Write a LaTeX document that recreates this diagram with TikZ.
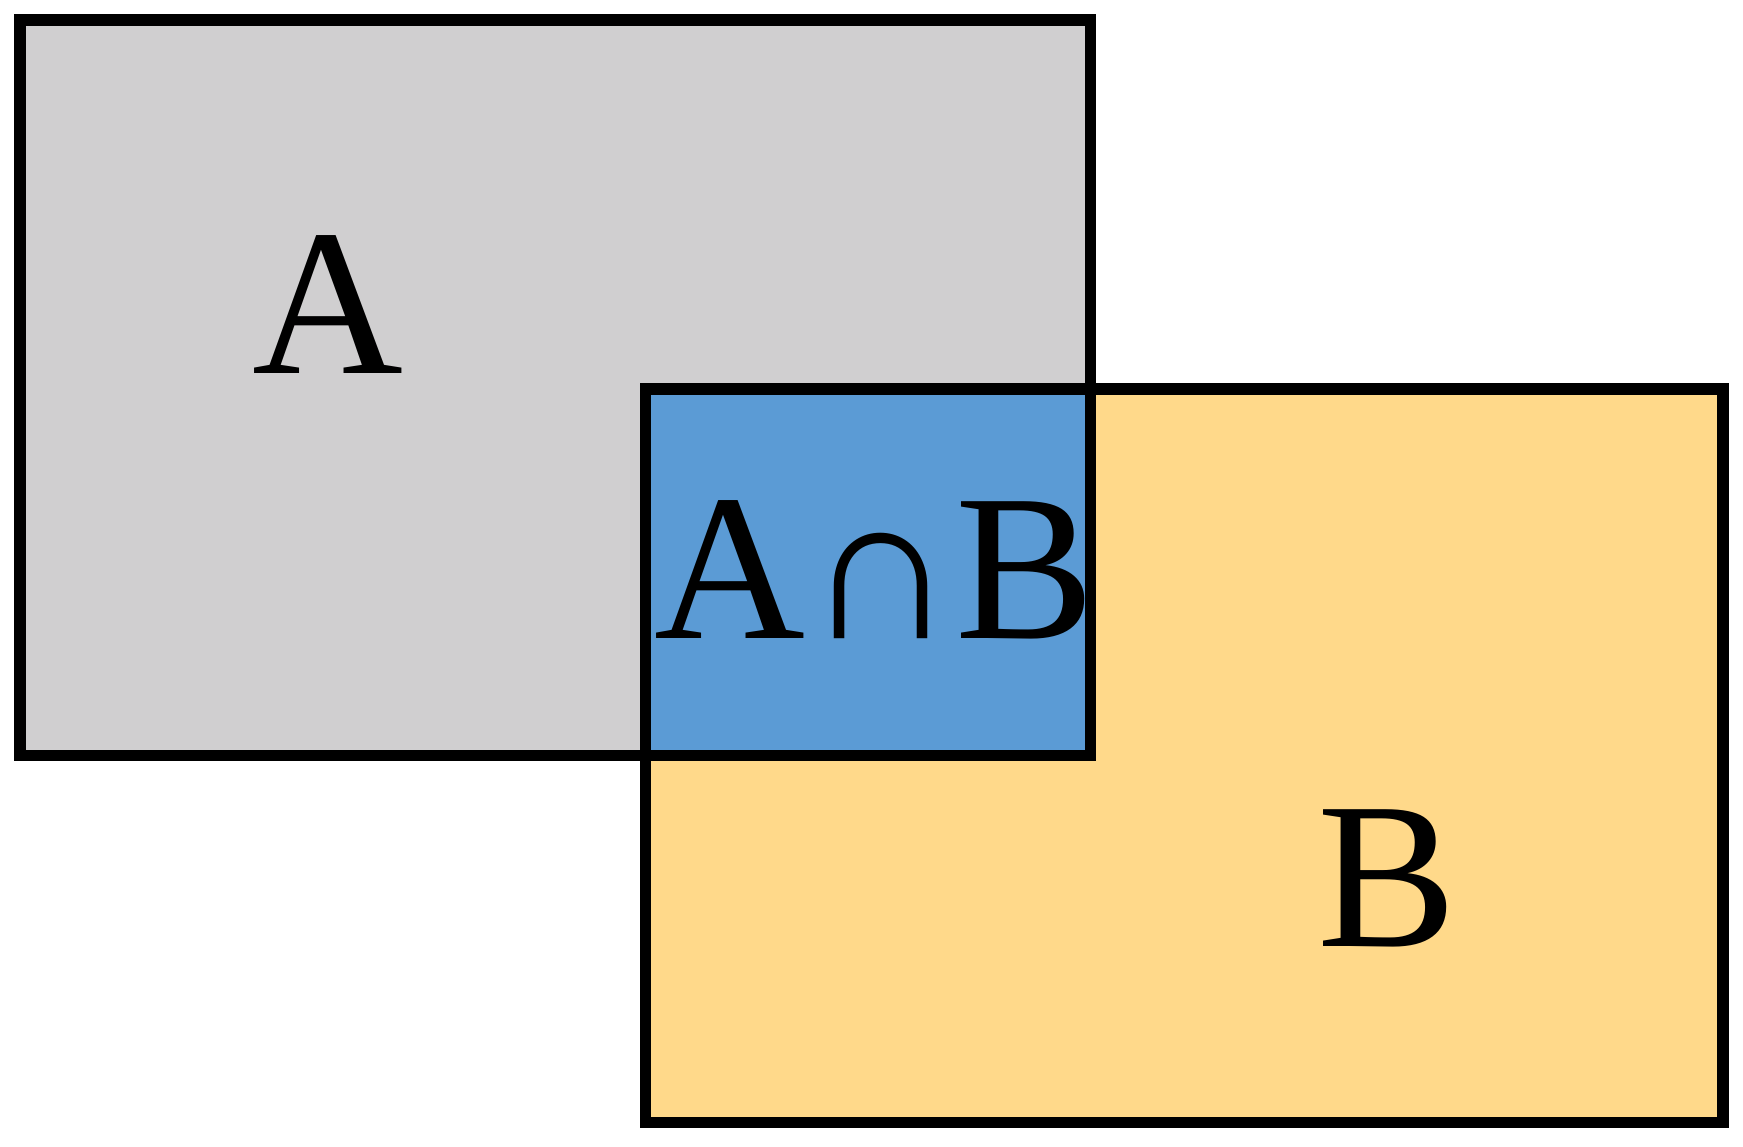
\documentclass[tikz,border=0pt]{standalone}
\usepackage{fontspec}
\setmainfont{Liberation Serif}
\begin{document}
\begin{tikzpicture}[x=0.5pt,y=0.5pt,
  box/.style={draw=black,line width=5pt},
  lab/.style={font=\fontsize{94}{100}\selectfont,inner sep=0pt}]
\definecolor{agrey}{HTML}{D0CFD0}
\definecolor{bblue}{HTML}{5B9BD5}
\definecolor{byel}{HTML}{FFD98A}
\useasboundingbox (0,0) rectangle (1568,1031);
\fill[agrey] (18,1013) rectangle (981,351);
\fill[byel] (581,681) rectangle (1550,21);
\fill[bblue] (581,681) rectangle (981,351);
\draw[box] (18,1013) rectangle (981,351);
\draw[box] (581,681) rectangle (1550,21);
\node[lab] (a) at (295,757) {A};
\node[lab] (ab) at (787,518) {A∩B};
\node[lab] (b) at (1248,241) {B};
\end{tikzpicture}
\end{document}
